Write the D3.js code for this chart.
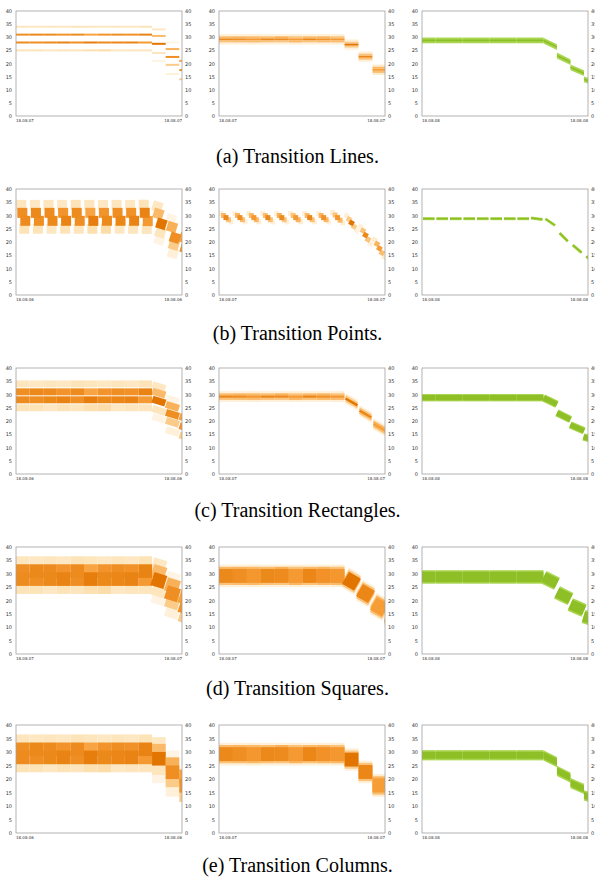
<!DOCTYPE html>
<html>
<head>
<meta charset="utf-8">
<script src="https://cdn.jsdelivr.net/npm/d3@7"></script>
<style>
  body { margin: 0; background: #fff; }
  .tick text { font-family: "DejaVu Sans", sans-serif; font-size: 5px; fill: #333; }
  .date { font-family: "DejaVu Sans", sans-serif; font-size: 4px; fill: #333; }
  .caption { font-family: "Liberation Serif", "Times New Roman", serif; font-size: 20px; fill: #000; }
</style>
</head>
<body>
<div id="chart"></div>
<script>
// ---- data ----
const captions = ["(a) Transition Lines.", "(b) Transition Points.", "(c) Transition Rectangles.",
                  "(d) Transition Squares.", "(e) Transition Columns."];
const glyphKinds = ["lines", "points", "rects", "squares", "columns"];
const yTicks = [0, 5, 10, 15, 20, 25, 30, 35, 40];
// start / end date label of each panel, row by row (left, middle, right)
const dateLabels = [
  [["18.08.07", "18.08.07"], ["18.08.07", "18.08.07"], ["18.08.08", "18.08.08"]],
  [["18.08.06", "18.08.06"], ["18.08.07", "18.08.07"], ["18.08.08", "18.08.08"]],
  [["18.08.06", "18.08.06"], ["18.08.07", "18.08.07"], ["18.08.08", "18.08.08"]],
  [["18.08.07", "18.08.07"], ["18.08.07", "18.08.07"], ["18.08.08", "18.08.08"]],
  [["18.08.06", "18.08.06"], ["18.08.07", "18.08.07"], ["18.08.08", "18.08.08"]]
];

// left panels: possible values per time step as [value, probability]
const leftSteps = [
  [[34, .13], [31, .36], [28, .37], [25, .14]],
  [[34, .12], [31, .38], [28, .36], [25, .14]],
  [[34, .13], [31, .37], [28, .38], [25, .12]],
  [[34, .12], [31, .34], [28, .40], [25, .14]],
  [[34, .14], [31, .37], [28, .36], [25, .13]],
  [[34, .13], [31, .29], [28, .42], [25, .15]],
  [[34, .12], [31, .34], [28, .38], [25, .16]],
  [[34, .13], [31, .36], [28, .39], [25, .12]],
  [[34, .12], [31, .35], [28, .40], [25, .13]],
  [[34, .14], [31, .40], [28, .32], [25, .13]],
  [[33, .12], [30.5, .24], [27.5, .46], [24, .13], [21, .06]],
  [[28, .06], [25.5, .26], [22.5, .36], [19.5, .2], [16, .08]],
  [[21, .3], [17.5, .35], [14, .2]]
];
const leftTilt = [0, 0, 0, 0, 0, 0, 0, 0, 0, 0, -1.6, -1.6, -1.6];

// middle panels: centre value per step, spread offsets and their probabilities
const midCenter = [29.2, 29.2, 29.2, 29.2, 29.2, 29.2, 29.2, 29.2, 29.2, 27.2, 22.6, 17.6, 13];
const midOffsets = [1.6, 0.8, 0, -0.8, -1.6];
const midProbs = [
  [.08, .24, .38, .22, .08],
  [.08, .25, .36, .23, .08],
  [.09, .24, .33, .24, .09],
  [.08, .23, .38, .22, .08],
  [.08, .26, .37, .21, .08],
  [.09, .22, .32, .25, .09],
  [.08, .24, .39, .22, .08],
  [.08, .25, .35, .24, .08],
  [.09, .22, .33, .24, .09],
  [.08, .20, .46, .20, .07],
  [.08, .22, .39, .22, .08],
  [.10, .25, .31, .23, .10],
  [.10, .25, .35, .20, .10]
];
const midTilt = [0, 0, 0, 0, 0, 0, 0, 0, 0, -3, -3, -3, -3];

// right panels: single green band
const greenCenter = [28.8, 28.8, 28.8, 28.8, 28.8, 28.8, 28.8, 28.8, 28.8, 27.5, 21.8, 17.4, 13.2];
const greenTilt = [0, 0, 0, 0, 0, 0, 0, 0, 0, -2.5, -2.5, -2.2, -1.5];

// ---- layout ----
const width = 595, height = 882;
const colLeft = [16, 219, 422];
const xExtent = [12.2, 11.9, 12.3];
const plotW = 166;
const rowTop = [11, 189, 368, 547, 725];
const rowBottom = [116, 295, 474, 654, 833];
const captionY = [163, 340, 517, 695, 872];

const orange = d3.scaleLinear()
    .domain([0.05, 0.14, 0.3, 0.45])
    .range(["#fff6ea", "#fde4b8", "#f8a03a", "#e27400"])
    .clamp(true);
const greenOuter = "#abd652", greenInner = "#8ebf26";

const svg = d3.select("#chart")
    .append("svg")
    .attr("width", width)
    .attr("height", height);

// local trend (units per step) from neighbouring step values
function trendOf(vals, i) {
    const a = vals[Math.max(0, i - 1)], b = vals[Math.min(vals.length - 1, i + 1)];
    const span = Math.min(vals.length - 1, i + 1) - Math.max(0, i - 1);
    return (b - a) / span;
}

const leftMeans = leftSteps.map(o => d3.sum(o, d => d[0] * d[1]) / d3.sum(o, d => d[1]));

function orangeItems(col) {
    const items = [];
    if (col === 0) {
        leftSteps.forEach((outs, i) => outs.forEach(([v, p], k) =>
            items.push({i, v, p, k, tilt: leftTilt[i], trend: trendOf(leftMeans, i)})));
    } else {
        midCenter.forEach((c, i) => midOffsets.forEach((o, k) =>
            items.push({i, v: c + o, p: midProbs[i][k], k, tilt: midTilt[i], trend: trendOf(midCenter, i)})));
    }
    return items.sort((a, b) => a.p - b.p);
}

const sizes = [
    {line: 2, point: 10, shift: [-1.5, -0.5, 2.5, 1.5, 0.5], rectH: 7},
    {line: 2, point: 5, shift: [-5, -2.5, 0, 2.5, 5], rectH: 2.4}
];

function box(layer, cx, cy, w, h, ang, fill) {
    layer.append("rect")
        .attr("x", -w / 2).attr("y", -h / 2)
        .attr("width", w).attr("height", h)
        .attr("fill", fill)
        .attr("transform", `translate(${cx},${cy}) rotate(${ang})`);
}

function drawOrange(layer, kind, col, x, y) {
    const sw = x(1) - x(0);
    const sz = sizes[col];
    orangeItems(col).forEach(d => {
        const cx = x(d.i + 0.5);
        const ang = Math.atan2(y(d.tilt) - y(0), sw) * 180 / Math.PI;
        const fill = orange(d.p);
        if (kind === "lines") {
            layer.append("line")
                .attr("x1", x(d.i)).attr("x2", x(d.i + 1))
                .attr("y1", y(d.v)).attr("y2", y(d.v))
                .attr("stroke", fill).attr("stroke-width", sz.line);
        } else if (kind === "points") {
            const dx = sz.shift[d.k];
            box(layer, cx + dx, y(d.v + d.trend * dx / sw), sz.point, sz.point, ang, fill);
        } else if (kind === "rects") {
            box(layer, cx, y(d.v), sw, sz.rectH, ang, fill);
        } else if (kind === "squares") {
            box(layer, cx, y(d.v), sw, sw, ang, fill);
        } else {
            box(layer, cx, y(d.v), sw, sw, 0, fill);
        }
    });
}

function drawGreen(layer, kind, x, y) {
    const sw = x(1) - x(0);
    const ppu = y(0) - y(1);
    greenCenter.forEach((c, i) => {
        const cx = x(i + 0.5);
        const ang = Math.atan2(y(greenTilt[i]) - y(0), sw) * 180 / Math.PI;
        const wide = greenTilt[i] ? sw + 1.5 : sw;
        if (kind === "lines" || kind === "columns") {
            const half = kind === "lines" ? [1.1, 0.35] : [1.9, 1.3];
            const v0 = c - greenTilt[i] / 2, v1 = c + greenTilt[i] / 2;
            half.forEach((h, j) => {
                layer.append("path")
                    .attr("d", d3.line()([
                        [x(i), y(v0 + h)], [x(i + 1), y(v1 + h)],
                        [x(i + 1), y(v1 - h)], [x(i), y(v0 - h)]
                    ]) + "Z")
                    .attr("fill", j === 0 ? greenOuter : greenInner);
            });
        } else if (kind === "points") {
            const t = trendOf(greenCenter, i);
            const a = Math.atan2(y(t) - y(0), sw) * 180 / Math.PI;
            box(layer, cx, y(c), sw - 2, 3, a, greenOuter);
            box(layer, cx, y(c), sw - 2, 1.6, a, greenInner);
        } else if (kind === "rects") {
            box(layer, cx, y(c), wide, 2.8 * ppu, ang, greenOuter);
            box(layer, cx, y(c), wide, 2 * ppu, ang, greenInner);
        } else {
            box(layer, cx, y(c), wide, sw, ang, greenOuter);
            box(layer, cx, y(c), wide, sw - 3, ang, greenInner);
        }
    });
}

glyphKinds.forEach((kind, r) => {
    const plotH = rowBottom[r] - rowTop[r];
    colLeft.forEach((left, c) => {
        const g = svg.append("g").attr("transform", `translate(${left},${rowTop[r]})`);
        const x = d3.scaleLinear().domain([0, xExtent[c]]).range([0, plotW]);
        const y = d3.scaleLinear().domain([0, 40]).range([plotH, 0]);

        const clipId = `clip-${r}-${c}`;
        g.append("clipPath").attr("id", clipId)
            .append("rect").attr("width", plotW).attr("height", plotH);

        const layer = g.append("g").attr("clip-path", `url(#${clipId})`);
        if (c < 2) drawOrange(layer, kind, c, x, y);
        else drawGreen(layer, kind, x, y);

        g.append("rect")
            .attr("width", plotW).attr("height", plotH)
            .attr("fill", "none").attr("stroke", "#a0a0a0").attr("stroke-width", 0.8);

        g.append("g")
            .call(d3.axisLeft(y).tickValues(yTicks).tickSize(0).tickPadding(4))
            .call(a => a.select(".domain").remove());
        g.append("g")
            .attr("transform", `translate(${plotW},0)`)
            .call(d3.axisRight(y).tickValues(yTicks).tickSize(0).tickPadding(3))
            .call(a => a.select(".domain").remove());

        g.append("text").attr("class", "date")
            .attr("x", 0).attr("y", plotH + 6)
            .text(dateLabels[r][c][0]);
        g.append("text").attr("class", "date")
            .attr("x", plotW).attr("y", plotH + 6)
            .attr("text-anchor", "end")
            .text(dateLabels[r][c][1]);
    });

    svg.append("text").attr("class", "caption")
        .attr("x", 297.5).attr("y", captionY[r])
        .attr("text-anchor", "middle")
        .text(captions[r]);
});
</script>
</body>
</html>
